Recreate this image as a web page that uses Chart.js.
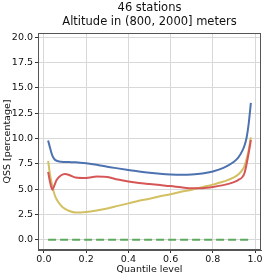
<!DOCTYPE html>
<html>
<head>
    <title>QSS by quantile level</title>
    <script src="https://cdn.jsdelivr.net/npm/chart.js"></script>
    <style>
        html, body { margin: 0; padding: 0; background: #fff; }
        #wrap { width: 266px; height: 277px; }
    </style>
</head>
<body>
    <div id="wrap"><canvas id="qssChart" width="266" height="277"></canvas></div>

    <script>
    const titleLines = ['46 stations', 'Altitude in (800, 2000] meters'];
    const xTicks = [0.0, 0.2, 0.4, 0.6, 0.8, 1.0];
    const yTicks = [0.0, 2.5, 5.0, 7.5, 10.0, 12.5, 15.0, 17.5, 20.0];

    const quantiles = [0.02, 0.03, 0.04, 0.05, 0.06, 0.08, 0.10, 0.12, 0.15, 0.20,
        0.25, 0.30, 0.35, 0.40, 0.45, 0.50, 0.55, 0.60, 0.65, 0.70,
        0.75, 0.80, 0.85, 0.90, 0.92, 0.94, 0.95, 0.96, 0.97, 0.98];
    const blueQSS = [9.8, 9.0, 8.3, 7.95, 7.8, 7.7, 7.68, 7.67, 7.65, 7.55,
        7.4, 7.2, 7.05, 6.9, 6.75, 6.62, 6.52, 6.45, 6.42, 6.45,
        6.55, 6.75, 7.1, 7.7, 8.1, 8.8, 9.3, 10.1, 11.5, 13.5];
    const redQSS = [6.7, 5.6, 4.95, 5.4, 5.9, 6.35, 6.5, 6.4, 6.15, 6.1,
        6.25, 6.2, 5.95, 5.75, 5.6, 5.5, 5.4, 5.3, 5.18, 5.08,
        5.1, 5.22, 5.4, 5.7, 5.9, 6.2, 6.6, 7.5, 8.6, 9.85];
    const yellowQSS = [7.8, 6.3, 5.3, 4.5, 4.0, 3.4, 3.05, 2.85, 2.7, 2.75,
        2.9, 3.1, 3.35, 3.6, 3.85, 4.05, 4.3, 4.5, 4.75, 4.95,
        5.2, 5.45, 5.75, 6.15, 6.45, 6.9, 7.3, 8.0, 8.9, 10.1];
    const greenQuantiles = [0.02, 0.98];
    const greenQSS = [0, 0];

    const font = 'DejaVu Sans';
    const pts = (xs, ys) => xs.map((x, i) => ({ x: x, y: ys[i] }));

    function line(data, color, extra) {
        return Object.assign({
            data: data,
            borderColor: color,
            borderWidth: 2,
            pointRadius: 0,
            fill: false,
            cubicInterpolationMode: 'monotone'
        }, extra || {});
    }

    // frame on all four sides + title centred over the plot area (matplotlib style)
    const frame = {
        id: 'frame',
        afterDraw(chart) {
            const a = chart.chartArea, c = chart.ctx;
            c.save();
            c.strokeStyle = '#555';
            c.lineWidth = 1;
            c.strokeRect(a.left + 0.5, a.top + 0.5, a.right - a.left - 1, a.bottom - a.top - 1);
            c.fillStyle = '#111';
            c.font = '11.5px "' + font + '"';
            c.textAlign = 'center';
            c.textBaseline = 'middle';
            const cx = (a.left + a.right) / 2;
            c.fillText(titleLines[0], cx, 8);
            c.fillText(titleLines[1], cx, 22);
            c.restore();
        }
    };

    const ctx = document.getElementById('qssChart').getContext('2d');
    new Chart(ctx, {
        type: 'line',
        data: {
            datasets: [
                line(pts(quantiles, blueQSS), '#4c72b0'),
                line(pts(greenQuantiles, greenQSS), '#5fa85f', { borderDash: [8, 4], cubicInterpolationMode: 'default' }),
                line(pts(quantiles, redQSS), '#d65656'),
                line(pts(quantiles, yellowQSS), '#d2c062')
            ]
        },
        options: {
            responsive: false,
            animation: false,
            layout: { padding: { left: 2, right: 5, top: 33, bottom: 2 } },
            plugins: {
                legend: { display: false },
                tooltip: { enabled: false },
                title: { display: false }
            },
            scales: {
                x: {
                    type: 'linear',
                    min: -0.028,
                    max: 1.028,
                    afterBuildTicks: s => { s.ticks = xTicks.map(v => ({ value: v })); },
                    afterFit: s => { s.height = 25; },
                    grid: { color: '#d8d8d8', tickColor: '#333', tickLength: 3 },
                    border: { color: '#555' },
                    ticks: {
                        color: '#111',
                        padding: 1,
                        maxRotation: 0,
                        font: { family: font, size: 9.5 },
                        callback: v => v.toFixed(1)
                    },
                    title: {
                        display: true,
                        text: 'Quantile level',
                        color: '#111',
                        padding: 0,
                        font: { family: font, size: 9.5 }
                    }
                },
                y: {
                    min: -1,
                    max: 20.4,
                    afterBuildTicks: s => { s.ticks = yTicks.map(v => ({ value: v })); },
                    afterFit: s => { s.width = 36; },
                    grid: { color: '#d8d8d8', tickColor: '#333', tickLength: 3 },
                    border: { color: '#555' },
                    ticks: {
                        color: '#111',
                        padding: 2,
                        font: { family: font, size: 9.5 },
                        callback: v => v.toFixed(1)
                    },
                    title: {
                        display: true,
                        text: 'QSS [percentage]',
                        color: '#111',
                        padding: 0,
                        font: { family: font, size: 9.5 }
                    }
                }
            }
        },
        plugins: [frame]
    });
    </script>
</body>
</html>
